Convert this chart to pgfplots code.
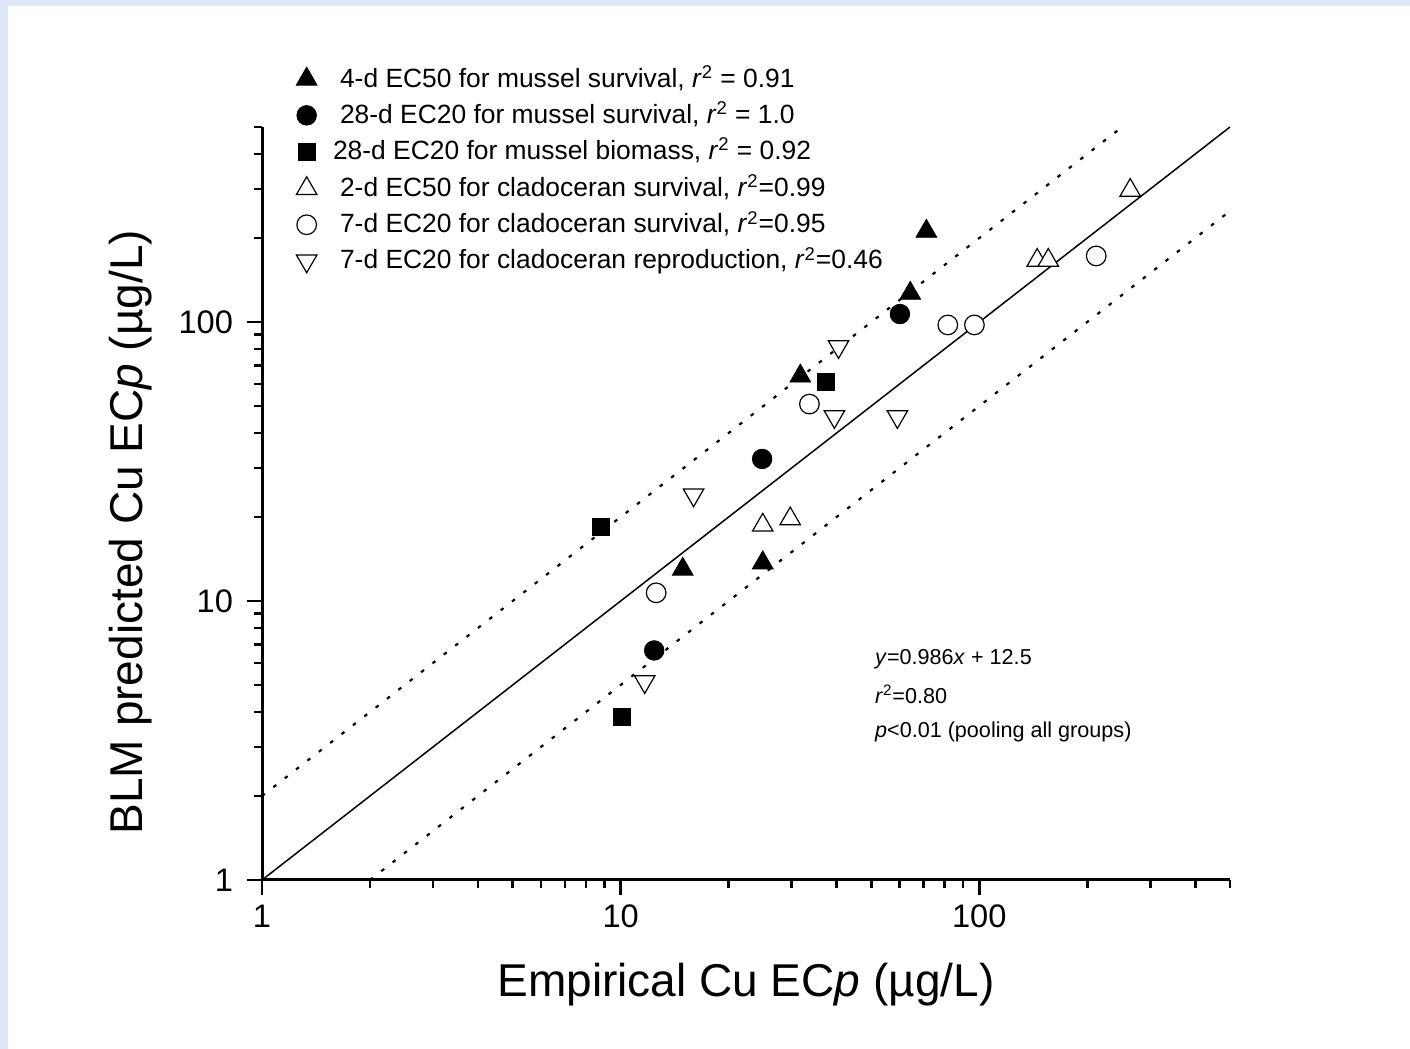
\documentclass[border=0pt]{standalone}
\usepackage{fontspec}
\setmainfont{Liberation Sans}
\usepackage{pgfplots}
\pgfplotsset{compat=1.18}
\definecolor{bgblue}{RGB}{220,232,246}
\begin{document}
\begin{tikzpicture}
\useasboundingbox (0pt,0pt) rectangle (705pt,524.5pt);
\fill[bgblue] (0pt,0pt) rectangle (705pt,524.5pt);
\fill[white] (4pt,0pt) rectangle (705pt,521.5pt);
\begin{axis}[
  at={(131pt,84.5pt)}, anchor=south west,
  scale only axis, width=484pt, height=376.5pt,
  xmode=log, ymode=log,
  xmin=1, xmax=500, ymin=1, ymax=500,
  axis x line=bottom, axis y line=left,
  axis line style={-, line width=1.5pt},
  tick align=outside,
  major tick length=7.5pt, minor tick length=4pt,
  tick style={black, line width=1.3pt},
  xtick={1,10,100}, xticklabels={1,10,100},
  ytick={1,10,100}, yticklabels={1,10,100},
  minor xtick={2,3,4,5,6,7,8,9,20,30,40,50,60,70,80,90,200,300,400,500},
  minor ytick={2,3,4,5,6,7,8,9,20,30,40,50,60,70,80,90,200,300,400,500},
  ticklabel style={font=\fontsize{16.3}{19}\selectfont},
  xticklabel style={yshift=-1.5pt},
  yticklabel style={xshift=-3.5pt},
  /pgf/number format/assume math mode=true,
  clip=false,
  xlabel={Empirical Cu EC\textit{p} (µg/L)},
  ylabel={BLM predicted Cu EC\textit{p} (µg/L)},
  label style={font=\fontsize{23}{27}\selectfont},
  xlabel style={at={(axis description cs:0.5,-0.139)}, anchor=center},
  ylabel style={at={(axis description cs:-0.136,0.462)}, anchor=center},
  legend style={draw=none, fill=none, inner sep=0pt,
    at={(axis description cs:0.035,1.080)}, anchor=north west,
    font=\fontsize{13.2}{15}\selectfont, cells={anchor=west},
    nodes={inner sep=0pt},
    row sep=7.1pt,
    /tikz/every odd column/.append style={column sep=11.5pt},
    /tikz/every even column/.append style={text height=9.5pt, text depth=3.5pt}},
]
% reference lines
\addplot[forget plot, black, line width=0.75pt] coordinates {(1,1) (500,500)};
\addplot[forget plot, black, line width=1.1pt, dash pattern=on 1.8pt off 5.4pt] coordinates {(1,2) (250,500)};
\addplot[forget plot, black, line width=1.1pt, dash pattern=on 1.8pt off 5.4pt] coordinates {(2,1) (500,250)};
% 4-d EC50 mussel survival
\addplot[only marks, mark=triangle*, mark size=6pt, mark options={fill=black, draw=black}] coordinates {
 (71.2,211.4) (64.2,126.7) (31.7,64.0) (14.9,13.0) (24.9,13.7)};
\addlegendentry{4-d EC50 for mussel survival, \textit{r}\textsuperscript{2} = 0.91}
% 28-d EC20 mussel survival
\addplot[only marks, mark=*, mark size=4.9pt, mark options={fill=black, draw=black}] coordinates {
 (60.07,106.8) (24.8,32.3) (12.4,6.65)};
\addlegendentry{28-d EC20 for mussel survival, \textit{r}\textsuperscript{2} = 1.0}
% 28-d EC20 mussel biomass
\addplot[only marks, mark=square*, mark size=4.3pt, mark options={fill=black, draw=black}] coordinates {
 (37.4,60.95) (8.80,18.4) (10.1,3.84)};
\addlegendentry{\hspace{-3.5pt}28-d EC20 for mussel biomass, \textit{r}\textsuperscript{2} = 0.92}
% 2-d EC50 cladoceran survival
\addplot[only marks, mark=triangle*, mark size=5.9pt, mark options={fill=white, draw=black, line width=0.6pt}] coordinates {
 (263.5,296.5) (145,166.4) (155.7,166.4) (24.9,18.7) (29.7,19.7)};
\addlegendentry{2-d EC50 for cladoceran survival, \textit{r}\textsuperscript{2}=0.99}
% 7-d EC20 cladoceran survival
\addplot[only marks, mark=*, mark size=4.9pt, mark options={fill=white, draw=black, line width=0.6pt}] coordinates {
 (211.8,172.5) (81.7,97.6) (96.9,97.6) (33.6,50.8) (12.56,10.7)};
\addlegendentry{7-d EC20 for cladoceran survival, \textit{r}\textsuperscript{2}=0.95}
% 7-d EC20 cladoceran reproduction
\addplot[only marks, mark=triangle*, mark size=5.9pt, mark options={rotate=180, fill=white, draw=black, line width=0.6pt}] coordinates {
 (40.5,81.6) (39.45,45.8) (59.1,45.8) (15.97,24.0) (11.67,5.14)};
\addlegendentry{7-d EC20 for cladoceran reproduction, \textit{r}\textsuperscript{2}=0.46}
% annotations
\node[anchor=west, inner sep=0pt, font=\fontsize{10.8}{13}\selectfont] at (axis description cs:0.633,0.293) {\textit{y}=0.986\textit{x} + 12.5};
\node[anchor=west, inner sep=0pt, font=\fontsize{10.8}{13}\selectfont] at (axis description cs:0.633,0.246) {\textit{r}\textsuperscript{2}=0.80};
\node[anchor=west, inner sep=0pt, font=\fontsize{10.8}{13}\selectfont] at (axis description cs:0.633,0.196) {\textit{p}<0.01 (pooling all groups)};
\end{axis}
\end{tikzpicture}
\end{document}
